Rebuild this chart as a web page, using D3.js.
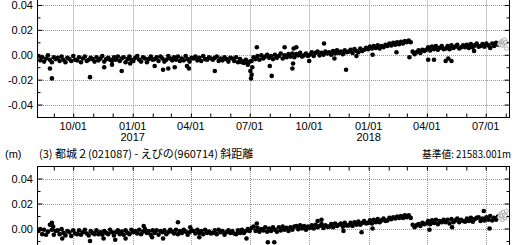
<!DOCTYPE html>
<html>
<head>
<meta charset="utf-8">
<script src="https://cdn.jsdelivr.net/npm/d3@7"></script>
<style>
  body { margin: 0; background: #fff; }
  svg { display: block; font-family: "Liberation Sans", Arial, sans-serif; }
</style>
</head>
<body>
<div id="container"></div>
<script>
// daily solutions, one value every stepDays days from startDate (mm)
const startDate = "2016-08-08";
const stepDays = 3;

const topValues = [
  -1,-4.5,-2,-5.5,-3,-0.5,-4,-6,-2,-3.5,
  -2.5,-5,-1.5,-4,-6,-2.5,-3.5,-5,-1,-4,
  -4.5,-2,-6,-3,-1.5,-5,-4,-2.5,-3.5,-5.5,
  -2,-4.5,-3,-1,-5.5,-3.5,-2.5,-4,-5,-2,
  -4,-1.5,-5,-3,-2,-6,-3.5,-1.5,-4,-5,
  -2.5,-1,-4,-5.5,-2,-3,-6,-3.5,-1.5,-4,
  -3.5,-2,-5,-1.5,-3,-5.5,-4,-1,-3,-4.5,
  -2,-4,-1.5,-5,-3,-4.5,-1,-3.5,-5.5,-2.5,
  -3,-1.5,-4.5,-2.5,-5,-1,-3.5,-4,-2,-3,
  -4,-2.5,-1.5,-5,-3,-4.5,-2,-3.5,-5.5,-2.5,
  -3,-5,-2,-6,-3.5,-5,-6.5,-4,-7,-5.5,
  -5,-2,-3.5,-1,-4,-0.5,-3,-1.5,0,-2.5,
  -1,-3.5,0,-2.5,-1,1,-3,-0.5,-2,0.5,
  -1.5,1,-2,0.5,-0.5,1.5,-1.5,-0.5,1,-1,
  0,2,-1,1.5,2.5,-0.5,1.5,0,2.5,1,
  2,0,3,1,3.5,1.5,2.5,0.5,3.5,2,
  2.5,4,1.5,4.5,3,2,5,3,4,5.5,
  4.5,6.5,5,7,5.5,7.5,5,7,6,8,
  7,9,7.5,9.5,8,10,8.5,10.5,9,11,
  10,11.5,10,2.5,0.5,2,3.5,1.5,4,3,
  4,6,3.5,6.5,4.5,7,4,5.5,7,4.5,
  5,7,4.5,7.5,5.5,6.5,8,5,6,7.5,
  6,8,5.5,8.5,6,7.5,9,6.5,7,8.5,
  6.5,9,7.5,5.5,9,7,9.5,8
];

const bottomValues = [
  -2,-0.5,-4.5,-1,-5,-2.5,3,-1,-5,-2,
  -1.5,-4.5,-0.5,-3.5,-5.5,-2,-3,-6,-1.5,-4,
  -4.5,-1.5,-5,-3,-1,-4,-5.5,-2,-3.5,-4.5,
  -1.5,-4.5,-3,-5,-2,-3.5,-4.5,-1,-3,-5.5,
  -3,-1.5,-4.5,-2.5,-5,-1.5,-3.5,-4.5,-1,-3,
  -2,-4,-1,-4.5,-2.5,-0.5,-3.5,-2,-5,-1.5,
  -3.5,-1.5,-5,-2,-3,-1.5,-4.5,-3,-1,-2.5,
  -4,-1,-4.5,-2,-3.5,-1,-2.5,-5,-3,-1.5,
  -2,-4,-1,-3.5,-2,-4.5,-1,-3.5,-2.5,-4,
  -3.5,-1.5,-4.5,-1,-3,-2,-5,-3,-1.5,-3.5,
  -2,-4,-4.5,-1.5,-3.5,-1,-3.5,-2,-0.5,-2,
  0.5,1.5,-2,0.5,-2.5,-0.5,-1.5,1,-2.5,0,
  -2,1,-1,-2.5,1,-1.5,1.5,-1,0.5,-2,
  1,-1,1.5,2,-0.5,2.5,0,2,-1,1.5,
  0.5,2.5,0,3,1,2,3.5,0.5,2.5,1.5,
  1.5,3.5,1,4,2,3,4,1.5,4.5,2.5,
  2.5,4.5,2,5,3,5.5,3,4.5,6,4,
  4.5,6.5,4,7,5,7.5,5,6.5,8,6,
  6.5,8.5,7.5,9,8,9.5,8.5,10,8.5,10.5,
  9,10.5,8.5,3,1,2.5,3.5,2,4.5,3.5,
  4,6,3.5,6.5,4.5,7,3.5,6,5,7,
  5,7,4,7.5,5,6.5,8,5,7,6,
  5.5,8,6,8.5,5.5,7.5,8.5,9,6,8,
  6.5,9,7,10,6.5,8.5,7,9.5
];

// scattered single days (date, mm)
const topOutliers = [
  ["2016-08-26",-11],["2016-08-29",-19],["2016-10-27",-18],["2016-11-18",-10],
  ["2016-11-30",-8],["2016-12-15",-13],["2016-12-28",-7],["2017-02-04",-9],
  ["2017-02-17",-12],["2017-02-25",-11],["2017-03-07",-10],["2017-03-26",-9],
  ["2017-03-29",-11],["2017-05-08",-13],["2017-06-19",-6],["2017-06-28",-8],
  ["2017-07-02",-13],["2017-07-03",-19],["2017-07-04",-16],["2017-07-05",-10],
  ["2017-07-12",6],["2017-08-01",-9],["2017-08-04",-17],["2017-08-24",6],
  ["2017-09-05",-11],["2017-09-06",-7],["2017-09-07",5],["2017-09-11",6],
  ["2017-10-01",-5],["2017-10-24",9],["2017-11-09",-3],["2017-11-27",-12],
  ["2017-12-13",-1],["2018-01-07",0],["2018-02-13",2],["2018-03-05",-2],
  ["2018-04-03",-4],["2018-04-12",-4],["2018-04-30",-5],["2018-05-04",-3],
  ["2018-05-09",-5],["2018-06-13",3]
];

const bottomOutliers = [
  ["2016-08-29",4.5],["2016-08-31",1.5],["2016-09-14",-8],["2016-10-27",-10],
  ["2016-11-17",-8],["2016-12-05",-9],["2016-12-21",-8],["2017-01-18",2],
  ["2017-01-31",-7],["2017-02-17",-8],["2017-03-12",5],["2017-03-31",1],
  ["2017-04-14",-7],["2017-06-26",-8],["2017-07-12",4],["2017-07-29",-11],
  ["2017-08-08",-11],["2017-10-14",6],["2017-10-20",7],["2017-11-23",-2],
  ["2017-12-21",-3],["2018-01-07",0],["2018-04-05",-1],["2018-05-10",1],
  ["2018-06-28",14],["2018-07-07",0]
];

// latest, not yet final (open symbols)
const recentDates = ["2018-07-22","2018-07-23","2018-07-24","2018-07-25","2018-07-26",
  "2018-07-27","2018-07-28","2018-07-29","2018-07-30","2018-07-31","2018-08-01","2018-08-02"];
const topRecent = [8.5,9.5,8,10,11,7.5,10.5,9,12,9.5,10,5];
const bottomRecent = [9,11,8,12,10,7,13,9,11,8.5,10,14];

const tickDates = ["2016-10-01","2017-01-01","2017-04-01","2017-07-01",
  "2017-10-01","2018-01-01","2018-04-01","2018-07-01"];
const tickLabels = ["10/01","01/01","04/01","07/01","10/01","01/01","04/01","07/01"];
const yearLabels = [["2017-01-01","2017"],["2018-01-01","2018"]];
const yTicks = [-0.04,-0.02,0,0.02,0.04];
const yMinor = [-0.05,-0.03,-0.01,0.01,0.03,0.05];

const w = 520;
const h = 245;
const left = 37, right = 509;
const parse = d3.timeParse("%Y-%m-%d");

let svg = d3.select("#container")
  .append("svg")
    .attr("width", w)
    .attr("height", h);

let x = d3.scaleTime()
  .domain([parse("2016-08-06"), parse("2018-08-06")])
  .range([left, right]);

function series(values) {
  let d0 = parse(startDate);
  return values.map((v, i) => ({date: d3.timeDay.offset(d0, i * stepDays), v: v / 1000}));
}
function pairs(list) {
  return list.map(p => ({date: parse(p[0]), v: p[1] / 1000}));
}
function recent(values) {
  return values.map((v, i) => ({date: parse(recentDates[i]), v: v / 1000}));
}

function drawPanel(id, top, bottom, axisSide, main, outl, rec) {
  let y = d3.scaleLinear().domain([-0.05, 0.05]).range([bottom, top]);
  let g = svg.append("g");

  g.append("clipPath").attr("id", "clip" + id)
    .append("rect").attr("x", left).attr("y", top).attr("width", right - left).attr("height", bottom - top);

  // grid
  g.selectAll(".vg").data(tickDates).enter().append("line")
    .attr("x1", d => Math.round(x(parse(d))) + 0.5).attr("x2", d => Math.round(x(parse(d))) + 0.5)
    .attr("y1", top).attr("y2", bottom)
    .attr("stroke", "#999").attr("stroke-dasharray", "1,1");
  g.selectAll(".hg").data(yTicks).enter().append("line")
    .attr("x1", left).attr("x2", right)
    .attr("y1", d => Math.round(y(d)) + 0.5).attr("y2", d => Math.round(y(d)) + 0.5)
    .attr("stroke", "#999").attr("stroke-dasharray", "1,1");

  // data
  let dots = g.append("g").attr("clip-path", "url(#clip" + id + ")");
  dots.selectAll(".pt").data(series(main).concat(pairs(outl))).enter().append("circle")
    .attr("cx", d => x(d.date)).attr("cy", d => y(d.v)).attr("r", 2.3)
    .attr("fill", "#000");
  dots.selectAll(".rc").data(recent(rec)).enter().append("circle")
    .attr("cx", d => x(d.date)).attr("cy", d => y(d.v)).attr("r", 1.9)
    .attr("fill", "#fff").attr("stroke", "#999").attr("stroke-width", 0.8);

  // y axes, ticks inward
  let yl = g.append("g").attr("transform", "translate(" + (left + 0.5) + ",0)")
    .call(d3.axisRight(y).tickValues(yTicks).tickSize(5).tickFormat(""));
  yl.append("g").call(d3.axisRight(y).tickValues(yMinor).tickSize(3).tickFormat(""));
  let yr = g.append("g").attr("transform", "translate(" + (right + 0.5) + ",0)")
    .call(d3.axisLeft(y).tickValues(yTicks).tickSize(5).tickFormat(""));
  yr.append("g").call(d3.axisLeft(y).tickValues(yMinor).tickSize(3).tickFormat(""));
  g.selectAll(".domain").remove();

  g.selectAll(".ylab").data(yTicks.filter(d => y(d) < h - 4)).enter().append("text")
    .attr("x", left - 4).attr("y", d => y(d) + 4)
    .attr("text-anchor", "end").attr("font-size", 11).attr("fill", "#000")
    .text(d => d3.format(".2f")(d).replace("\u2212", "-"));

  // x axis ticks, inward
  let months = d3.timeMonth.range(parse("2016-09-01"), parse("2018-08-02"));
  if (axisSide === "bottom") {
    g.append("g").attr("transform", "translate(0," + (bottom + 0.5) + ")")
      .call(d3.axisTop(x).tickValues(months).tickSize(4).tickFormat(""))
      .select(".domain").remove();
    g.selectAll(".xlab").data(tickDates).enter().append("text")
      .attr("x", (d, i) => x(parse(d))).attr("y", bottom + 13)
      .attr("text-anchor", "middle").attr("font-size", 11)
      .text((d, i) => tickLabels[i]);
    g.selectAll(".yr").data(yearLabels).enter().append("text")
      .attr("x", d => x(parse(d[0]))).attr("y", bottom + 24)
      .attr("text-anchor", "middle").attr("font-size", 11)
      .text(d => d[1]);
  } else {
    g.append("g").attr("transform", "translate(0," + (top + 0.5) + ")")
      .call(d3.axisBottom(x).tickValues(months).tickSize(4).tickFormat(""))
      .select(".domain").remove();
  }
  g.selectAll(".tick line").attr("stroke", "#000");

  // frame
  g.append("rect")
    .attr("x", left + 0.5).attr("y", top + 0.5)
    .attr("width", right - left).attr("height", bottom - top)
    .attr("fill", "none").attr("stroke", "#000");
}

drawPanel("a", -7.5, 117, "bottom", topValues, topOutliers, topRecent);
drawPanel("b", 166, 291, "top", bottomValues, bottomOutliers, bottomRecent);

// second panel heading
svg.append("text").attr("x", 5).attr("y", 158).attr("font-size", 11).text("(m)");
svg.append("text").attr("x", 39).attr("y", 158).attr("font-size", 11)
  .attr("font-family", "'Noto Sans CJK JP', sans-serif")
  .text("(3) 都城２(021087) - えびの(960714) 斜距離");
svg.append("text").attr("x", 511).attr("y", 158).attr("font-size", 10.5)
  .attr("text-anchor", "end")
  .attr("font-family", "'Noto Sans CJK JP', sans-serif")
  .attr("textLength", 89).attr("lengthAdjust", "spacingAndGlyphs")
  .text("基準値: 21583.001m");
</script>
</body>
</html>
